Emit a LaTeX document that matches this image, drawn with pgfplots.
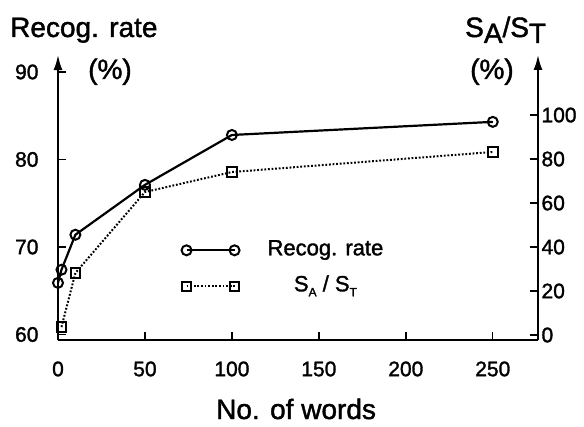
\documentclass[border=0pt]{standalone}
\usepackage{fontspec}
\setmainfont{Liberation Sans}[BoldFont={Liberation Sans}, BoldFeatures={FakeBold=1.5}]
\usepackage{pgfplots}
\usepackage{pgfplotstable}
\pgfplotsset{compat=1.18}
\usetikzlibrary{arrows.meta}

\pgfplotstableread{
x y
0 65.9
2 67.4
10 71.4
50 77.1
100 82.8
250 84.3
}\recog
\pgfplotstableread{
x y
2 3.6
10 28.2
50 65
100 74.1
250 83.2
}\sast

\begin{document}
\bfseries
\begin{tikzpicture}
\path (-58pt,-86pt) rectangle (526pt,340pt);
\pgfplotsset{
 common/.style={
  scale only axis, width=480pt, height=285pt,
  xmin=0, xmax=276,
  tick align=inside, major tick length=8pt,
  every tick/.style={black, line width=1.4pt},
  tick label style={font=\fontsize{21}{22}\selectfont\bfseries},
  /pgf/number format/assume math mode=true,
  axis line style={line width=2pt},
  every outer x axis line/.append style={-},
  every outer y axis line/.append style={-{Latex[length=15pt,width=9pt]}},
  every inner y axis line/.append style={-{Latex[length=15pt,width=9pt]}},
  clip=false,
 }
}
\begin{axis}[common,
  axis x line*=bottom, axis y line*=left,
  ymin=59.37, ymax=91.94,
  xtick={0,50,...,250}, ytick={60,70,80,90},
  yticklabel style={xshift=-16pt},
  xticklabel style={yshift=-18pt},
  xlabel={No. of words},
  xlabel style={font=\fontsize{28}{30}\selectfont\bfseries, at={(axis description cs:0.496,0)}, anchor=base, yshift=-79pt, inner sep=0pt},
]
\addplot[black, line width=2.2pt, mark=o, mark size=5pt, mark options={solid, line width=2pt, fill=white}] table {\recog};
\end{axis}
\begin{axis}[common,
  axis x line=none, axis y line*=right,
  ymin=-2.27, ymax=127.3,
  ytick={0,20,...,100},
  legend cell align=center,
  legend image code/.code={\draw[#1] plot coordinates {(0pt,0pt) (48pt,0pt)};},
  legend style={draw=none, fill=none, inner sep=0pt, column sep=28pt, row sep=14pt,
    at={(rel axis cs:0.257,0.354)}, anchor=north west,
    nodes={inner sep=0pt, text height=16pt, text depth=6pt, font=\fontsize{22}{24}\selectfont\bfseries}},
]
\addlegendimage{black, line width=2.2pt, mark=o, mark size=5pt, mark options={solid, line width=2pt, fill=white}}
\addlegendentry{Recog. rate}
\addplot[black, line width=2pt, dash pattern=on 1.8pt off 1.8pt, mark=square, mark size=4.8pt, mark options={solid, line width=2pt, fill=white}] table {\sast};
\addlegendentry{S\raisebox{-5pt}{\fontsize{12}{12}\selectfont A} / S\raisebox{-5pt}{\fontsize{12}{12}\selectfont T}}
\end{axis}
\node[anchor=base west, inner sep=0pt, font=\fontsize{28}{30}\selectfont\bfseries] at (-48pt,303pt) {Recog. rate};
\node[anchor=base west, inner sep=0pt, font=\fontsize{28}{30}\selectfont\bfseries] at (30pt,261pt) {(\%)};
\node[anchor=base west, inner sep=0pt, font=\fontsize{28}{30}\selectfont\bfseries] at (407pt,303pt) {S\raisebox{-6pt}{A}/S\raisebox{-6pt}{T}};
\node[anchor=base west, inner sep=0pt, font=\fontsize{28}{30}\selectfont\bfseries] at (412pt,261pt) {(\%)};
\end{tikzpicture}
\end{document}
